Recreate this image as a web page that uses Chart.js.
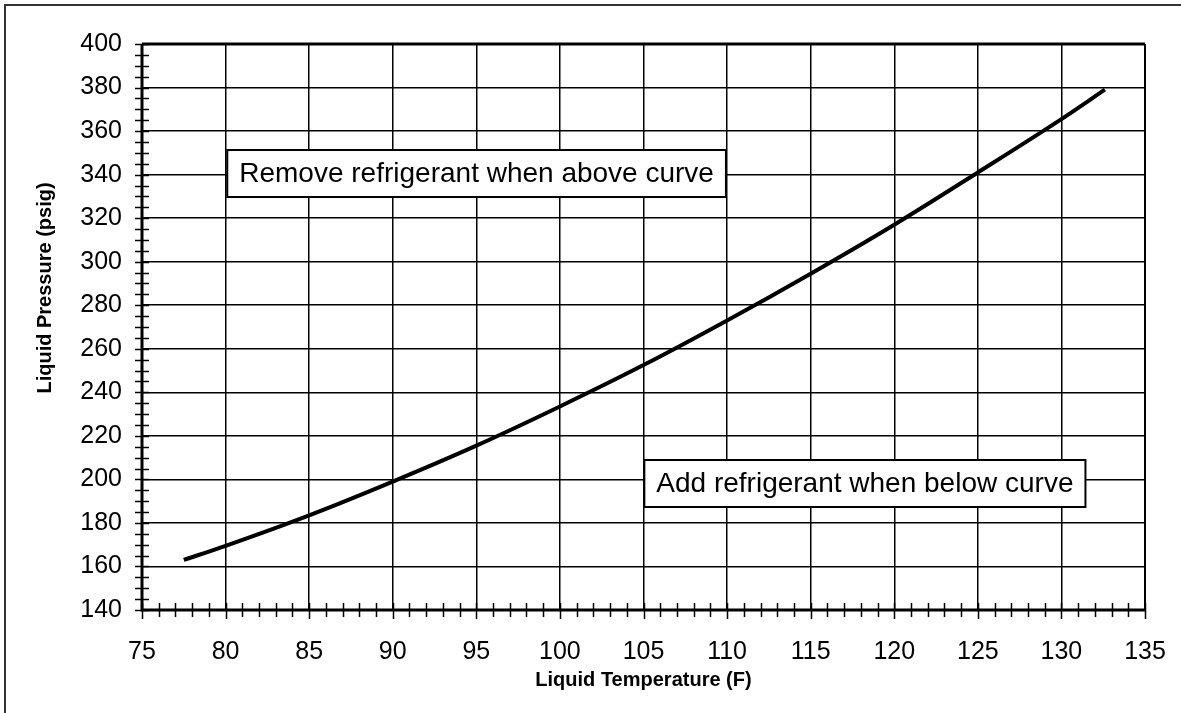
<!DOCTYPE html>
<html>
<head>
<meta charset="utf-8">
<script src="https://cdn.jsdelivr.net/npm/chart.js@4/dist/chart.umd.min.js"></script>
<style>
  html, body { margin: 0; padding: 0; background: #fff; }
  #wrap { width: 1181px; height: 713px; }
</style>
</head>
<body>
<div id="wrap"><canvas id="chart" width="1181" height="713"></canvas></div>
<script>
// curve
const temps = [77.5, 80, 85, 90, 95, 100, 105, 110, 115, 120, 125, 130, 132.6];
const pressures = [163, 169.5, 183.5, 199, 215.5, 233.5, 252.5, 273, 294.5, 317, 341, 365.5, 379];

// axis ranges
const xMin = 75, xMax = 135, xStep = 5, xMinor = 1;
const yMin = 140, yMax = 400, yStep = 20, yMinor = 5;

// boxed notes, anchored at top-left in data units
const noteTexts = ['Remove refrigerant when above curve', 'Add refrigerant when below curve'];
const noteX = [80.1, 105.05];
const noteY = [351.3, 208.9];

const yTitle = 'Liquid Pressure (psig)';

const FONT = "'Liberation Sans', Arial, sans-serif";

const points = temps.map((t, i) => ({ x: t, y: pressures[i] }));

const decorPlugin = {
  id: 'decor',
  afterDraw(chart) {
    const c = chart.ctx;
    const xs = chart.scales.x, ys = chart.scales.y;
    const a = chart.chartArea;
    c.save();
    c.strokeStyle = '#000';

    // minor ticks crossing the axes
    c.lineWidth = 1.5;
    for (let v = xMin; v <= xMax; v += xMinor) {
      const px = Math.round(xs.getPixelForValue(v)) + 0.5;
      const major = (v - xMin) % xStep === 0;
      c.beginPath();
      c.moveTo(px, a.bottom - 7);
      c.lineTo(px, a.bottom + (major ? 9 : 7));
      c.stroke();
    }
    for (let v = yMin; v <= yMax; v += yMinor) {
      const py = Math.round(ys.getPixelForValue(v)) + 0.5;
      c.beginPath();
      c.moveTo(a.left - 7, py);
      c.lineTo(a.left + 7, py);
      c.stroke();
    }

    // plot frame
    c.lineWidth = 3;
    c.beginPath();
    c.moveTo(a.left, a.top);
    c.lineTo(a.right, a.top);
    c.moveTo(a.left, a.top);
    c.lineTo(a.left, a.bottom);
    c.lineTo(a.right, a.bottom);
    c.stroke();
    c.lineWidth = 2;
    c.beginPath();
    c.moveTo(a.right, a.top);
    c.lineTo(a.right, a.bottom);
    c.stroke();

    // notes
    c.font = '28px ' + FONT;
    c.textBaseline = 'middle';
    c.textAlign = 'left';
    noteTexts.forEach((txt, i) => {
      const bx = xs.getPixelForValue(noteX[i]);
      const by = ys.getPixelForValue(noteY[i]);
      const w = c.measureText(txt).width + 24;
      const h = 47;
      c.fillStyle = '#fff';
      c.fillRect(bx, by, w, h);
      c.lineWidth = 2;
      c.strokeRect(bx, by, w, h);
      c.fillStyle = '#000';
      c.fillText(txt, bx + 12, by + h / 2 + 1);
    });

    // y axis title, sits a little above the plot centre
    c.save();
    c.translate(45, 288);
    c.rotate(-Math.PI / 2);
    c.font = 'bold 20px ' + FONT;
    c.textAlign = 'center';
    c.textBaseline = 'middle';
    c.fillStyle = '#000';
    c.fillText(yTitle, 0, 0);
    c.restore();

    // outer frame
    c.strokeStyle = '#333';
    c.lineWidth = 2;
    c.strokeRect(5, 5, 1300, 900);
    c.restore();
  }
};

new Chart(document.getElementById('chart'), {
  type: 'scatter',
  data: {
    datasets: [{
      data: points,
      showLine: true,
      borderColor: '#000',
      borderWidth: 4,
      pointRadius: 0,
      cubicInterpolationMode: 'monotone',
      fill: false
    }]
  },
  options: {
    responsive: false,
    animation: false,
    events: [],
    layout: { padding: { left: 0, top: 44, right: 36, bottom: 0 } },
    plugins: {
      legend: { display: false },
      tooltip: { enabled: false }
    },
    scales: {
      x: {
        type: 'linear',
        min: xMin,
        max: xMax,
        afterFit(s) { s.height = 103; s.paddingLeft = 0; s.paddingRight = 0; },
        ticks: {
          stepSize: xStep,
          padding: 27,
          color: '#000',
          font: { family: FONT, size: 25 }
        },
        grid: { color: '#000', lineWidth: 1.5, drawTicks: false },
        border: { display: false },
        title: {
          display: true,
          text: 'Liquid Temperature (F)',
          color: '#000',
          font: { family: FONT, size: 20, weight: 'bold' },
          padding: { top: 0, bottom: 21 }
        }
      },
      y: {
        type: 'linear',
        min: yMin,
        max: yMax,
        afterFit(s) { s.width = 142; s.paddingTop = 0; s.paddingBottom = 0; },
        ticks: {
          stepSize: yStep,
          padding: 20,
          color: '#000',
          font: { family: FONT, size: 25 }
        },
        grid: { color: '#000', lineWidth: 1.5, drawTicks: false },
        border: { display: false },
        title: { display: false }
      }
    }
  },
  plugins: [decorPlugin]
});
</script>
</body>
</html>
